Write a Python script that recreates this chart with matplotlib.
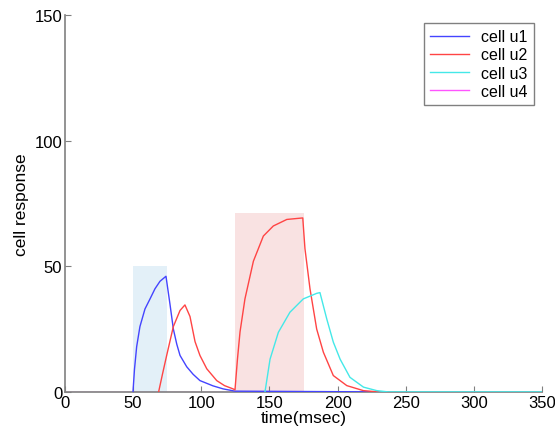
import matplotlib
matplotlib.use("Agg")
from matplotlib import pyplot as plt

plt.rcParams['font.family'] = ['Liberation Sans', 'DejaVu Sans']

# stimulus windows (msec) and their heights
stim_start = [50, 125]
stim_end = [75, 175]
stim_height = [50, 71]
stim_colors = ['#e3f0f8', '#f9e2e2']

# cell responses
t_u1 = [49.9, 51, 52.6, 55, 58.7, 62.4, 66, 69.7, 74.1, 77, 79.5, 82, 84.4, 89.3, 94, 99, 108.6, 116, 124.7, 230]
v_u1 = [0, 9, 18, 26, 33, 37, 41, 44, 46, 35, 25, 19, 14.5, 10, 7, 4.5, 2.4, 1.2, 0.3, 0]

t_u2 = [68.7, 71.5, 74.6, 79.5, 84.4, 88, 91.7, 95.4, 99, 104, 111.3, 117, 123.3, 124.7,
        126.5, 128.4, 132, 138.2, 145.5, 152.8, 162.7, 174.4, 176, 179.7, 184.6,
        189.5, 196.8, 206.7, 218.9, 230]
v_u2 = [0, 7, 14.5, 26, 32.4, 34.6, 30, 20, 14.5, 9.2, 4.5, 2.5, 1.2, 0.8,
        13, 23.9, 37, 52, 62, 66, 68.6, 69.2, 57, 41, 25,
        15.8, 6.5, 2.5, 0.5, 0]

t_u3 = [146.7, 150.4, 156.5, 165, 174.8, 184.6, 187, 192, 196.8, 201.8, 209, 218.9, 228.7, 237, 350]
v_u3 = [0, 13, 23.7, 31.7, 37, 39.2, 39.5, 29, 19.8, 13, 5.8, 1.9, 0.5, 0, 0]

t_u4 = [0, 350]
v_u4 = [0, 0]


def plot_graph():
    fig = plt.figure(figsize=(5.55, 4.39), dpi=100)
    ax = fig.add_axes([0.117, 0.105, 0.86, 0.859])

    for s, e, h, c in zip(stim_start, stim_end, stim_height, stim_colors):
        ax.bar(s, h, width=e - s, align='edge', color=c, linewidth=0, zorder=0)

    ax.plot(t_u4, v_u4, color='#ff55ff', lw=1, label='cell u4', zorder=1)
    ax.plot(t_u1, v_u1, color='#4444ff', lw=1, label='cell u1', zorder=3)
    ax.plot(t_u2, v_u2, color='#ff4444', lw=1, label='cell u2', zorder=3)
    ax.plot(t_u3, v_u3, color='#44e8e8', lw=1, label='cell u3', zorder=3)

    handles, labels = ax.get_legend_handles_labels()
    order = [1, 2, 3, 0]
    leg = ax.legend([handles[i] for i in order], [labels[i] for i in order],
                    loc='upper right', fancybox=False, framealpha=1,
                    edgecolor='#808080', fontsize=11.5, handlelength=2.4,
                    borderaxespad=0.5, labelspacing=0.2, handletextpad=0.8)
    leg.get_frame().set_linewidth(1.0)

    ax.set_xlim(0, 350)
    ax.set_ylim(0, 150)
    ax.set_xticks(range(0, 351, 50))
    ax.set_yticks(range(0, 151, 50))
    ax.spines['top'].set_visible(False)
    ax.spines['right'].set_visible(False)
    for sp in ('left', 'bottom'):
        ax.spines[sp].set_color('#808080')
        ax.spines[sp].set_linewidth(1.2)
    ax.tick_params(direction='in', length=4, color='#808080', labelsize=12, pad=2)
    ax.set_xlabel('time(msec)', fontsize=12.5, labelpad=0)
    ax.set_ylabel('cell response', fontsize=12.5, labelpad=4)

    fig.savefig('out.png', dpi=100)


if __name__ == "__main__":
    plot_graph()
